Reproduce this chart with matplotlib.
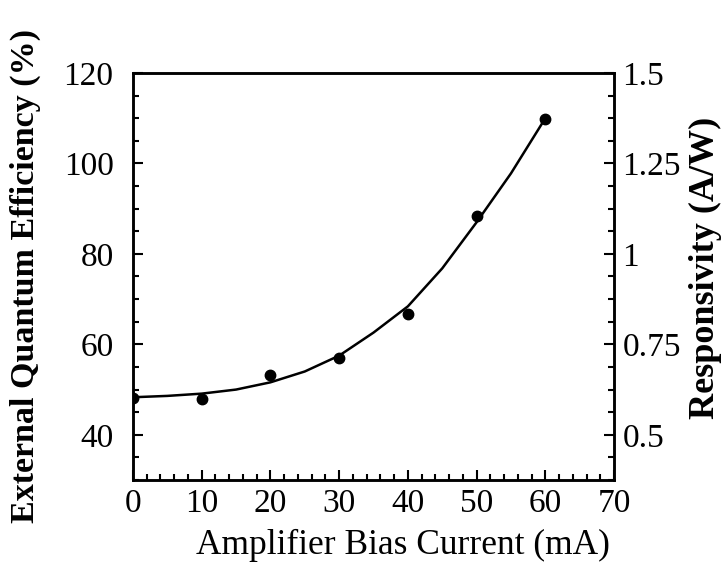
import numpy as np
import matplotlib.pyplot as plt
from matplotlib.ticker import MultipleLocator

# measured points
current = [0, 10, 20, 30, 40, 50, 60]
efficiency = [48.2, 48.0, 53.3, 57.0, 66.7, 88.4, 109.8]

# fitted curve
curve_x = [0, 5, 10, 15, 20, 25, 30, 35, 40, 45, 50, 55, 60]
curve_y = [48.3, 48.6, 49.1, 50.0, 51.6, 54.0, 57.5, 62.6, 68.4, 76.8, 87.0, 97.8, 110.0]

left_ticks = [40, 60, 80, 100, 120]
right_ticks = [0.5, 0.75, 1.0, 1.25, 1.5]
right_labels = ['0.5', '0.75', '1', '1.25', '1.5']
x_ticks = [0, 10, 20, 30, 40, 50, 60, 70]

plt.rcParams['font.family'] = ['Liberation Serif', 'DejaVu Serif']
fs = 24

fig = plt.figure(figsize=(7.25, 5.67), dpi=100)
ax = fig.add_axes([0.1834, 0.1534, 0.6636, 0.7179])

ax.plot(curve_x, curve_y, color='black', lw=1.8)
ax.plot(current, efficiency, 'o', color='black', ms=7.5)

ax.set_xlim(0, 70)
ax.set_ylim(30, 120)
ax.set_xticks(x_ticks)
ax.set_yticks(left_ticks)
ax.xaxis.set_minor_locator(MultipleLocator(2))
ax.yaxis.set_minor_locator(MultipleLocator(5))
ax.tick_params(which='both', direction='in', labelsize=fs, top=False, right=False, width=1.5)
ax.tick_params(which='major', length=7)
ax.tick_params(which='minor', length=4)
ax.tick_params(axis='y', pad=14)
ax.tick_params(axis='x', pad=6)
for s in ax.spines.values():
    s.set_linewidth(1.8)

ax.set_xlabel('Amplifier Bias Current (mA)', fontsize=25.5, va='center', ha='center')
ax.xaxis.set_label_coords(0.562, -0.16)
ax.set_ylabel('External Quantum Efficiency (%)', fontsize=24.5, fontweight='bold',
              va='center', ha='center')
ax.yaxis.set_label_coords(-0.2245, 0.5)

ax2 = ax.twinx()
ax2.set_ylim(30 / 80, 120 / 80)
ax2.set_yticks(right_ticks)
ax2.set_yticklabels(right_labels)
ax2.yaxis.set_minor_locator(MultipleLocator(0.0625))
ax2.tick_params(which='both', direction='in', labelsize=fs, width=1.5, pad=6)
ax2.tick_params(which='major', length=7)
ax2.tick_params(which='minor', length=4)
ax2.set_ylabel('Responsivity (A/W)', fontsize=26, fontweight='bold', va='center', ha='center')
ax2.yaxis.set_label_coords(1.189, 0.52)
for s in ax2.spines.values():
    s.set_linewidth(1.8)

fig.savefig('out.png', dpi=100)
